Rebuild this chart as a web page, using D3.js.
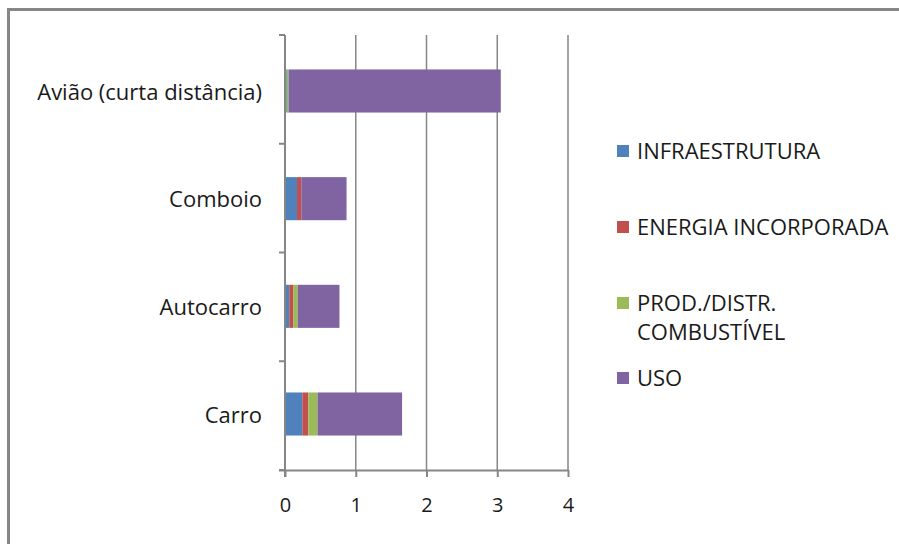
<!DOCTYPE html>
<html>
<head>
<meta charset="utf-8">
<script src="https://cdn.jsdelivr.net/npm/d3@7"></script>
<style>
  html, body { margin: 0; padding: 0; background: #fff; }
  svg text { font-family: "Open Sans", "Liberation Sans", sans-serif; fill: #1a1a1a; }
</style>
</head>
<body>
<svg id="chart" width="899" height="544"></svg>
<script>
// Transport modes (bottom to top as drawn) and the emission components stacked in each bar
const categories = ["Carro", "Autocarro", "Comboio", "Avião (curta distância)"];
const seriesNames = ["INFRAESTRUTURA", "ENERGIA INCORPORADA", "PROD./DISTR.\nCOMBUSTÍVEL", "USO"];
const infraestrutura = [0.245, 0.06, 0.17, 0.025];
const energiaIncorporada = [0.085, 0.06, 0.06, 0.0];
const prodDistrCombustivel = [0.13, 0.06, 0.0, 0.025];
const uso = [1.195, 0.59, 0.64, 3.0];
const xTicks = [0, 1, 2, 3, 4];
const colors = ["#4F81BD", "#C0504D", "#9BBB59", "#8064A2"];

const rows = categories.map((c, i) => ({
  cat: c,
  s0: infraestrutura[i],
  s1: energiaIncorporada[i],
  s2: prodDistrCombustivel[i],
  s3: uso[i]
}));
const keys = ["s0", "s1", "s2", "s3"];
const stacked = d3.stack().keys(keys)(rows);

const svg = d3.select("#chart");
const plot = { left: 285, right: 568, top: 35, bottom: 470 };
const labelSize = 22;

const x = d3.scaleLinear().domain([0, 4]).range([plot.left, plot.right]);
const y = d3.scaleBand()
  .domain(categories.slice().reverse())
  .range([plot.top, plot.bottom])
  .paddingInner(0.6)
  .paddingOuter(0.32);

// chart frame
svg.append("path")
  .attr("d", `M8.5,544 V9.5 H899`)
  .attr("fill", "none")
  .attr("stroke", "#868686")
  .attr("stroke-width", 3);

// vertical gridlines
svg.append("g")
  .selectAll("line")
  .data(xTicks.filter(t => t > 0))
  .join("line")
  .attr("x1", d => x(d)).attr("x2", d => x(d))
  .attr("y1", plot.top).attr("y2", plot.bottom)
  .attr("stroke", "#868686")
  .attr("stroke-width", 1.5);

// stacked bars
svg.append("g")
  .selectAll("g")
  .data(stacked)
  .join("g")
  .attr("fill", (d, i) => colors[i])
  .selectAll("rect")
  .data(d => d)
  .join("rect")
  .attr("x", d => x(d[0]))
  .attr("width", d => Math.max(0, x(d[1]) - x(d[0])))
  .attr("y", d => y(d.data.cat))
  .attr("height", y.bandwidth());

// x axis
const xAxis = svg.append("g")
  .attr("transform", `translate(0,${plot.bottom})`)
  .call(d3.axisBottom(x).tickValues(xTicks).tickSize(7).tickPadding(21).tickFormat(d3.format("d")));
xAxis.select(".domain").attr("d", `M${plot.left - 6},0.5H${plot.right}`);
xAxis.selectAll("line, path").attr("stroke", "#868686").attr("stroke-width", 2);
xAxis.selectAll("text").attr("font-size", 20).attr("fill", "#1a1a1a")
  .style("font-family", '"Open Sans", sans-serif');

// y axis: tick marks sit on the category boundaries
const yAxisG = svg.append("g");
yAxisG.append("line")
  .attr("x1", plot.left).attr("x2", plot.left)
  .attr("y1", plot.top).attr("y2", plot.bottom + 7)
  .attr("stroke", "#868686").attr("stroke-width", 2);
const step = (plot.bottom - plot.top) / categories.length;
yAxisG.selectAll("line.tick")
  .data(d3.range(categories.length + 1))
  .join("line")
  .attr("class", "tick")
  .attr("x1", plot.left - 6).attr("x2", plot.left)
  .attr("y1", d => plot.top + d * step).attr("y2", d => plot.top + d * step)
  .attr("stroke", "#868686").attr("stroke-width", 2);
yAxisG.selectAll("text")
  .data(categories)
  .join("text")
  .attr("x", plot.left - 23)
  .attr("y", d => y(d) + y.bandwidth() / 2 + 1)
  .attr("dy", "0.35em")
  .attr("text-anchor", "end")
  .attr("font-size", labelSize)
  .text(d => d);

// legend
const legendY = [151, 227, 303, 378];
const legend = svg.append("g");
seriesNames.forEach((name, i) => {
  const g = legend.append("g").attr("transform", `translate(617,${legendY[i]})`);
  g.append("rect").attr("x", 0).attr("y", -6).attr("width", 12).attr("height", 12).attr("fill", colors[i]);
  const lines = name.split("\n");
  lines.forEach((ln, j) => {
    g.append("text")
      .attr("x", 20)
      .attr("y", j * 29)
      .attr("dy", "0.35em")
      .attr("font-size", labelSize)
      .text(ln);
  });
});
</script>
</body>
</html>
